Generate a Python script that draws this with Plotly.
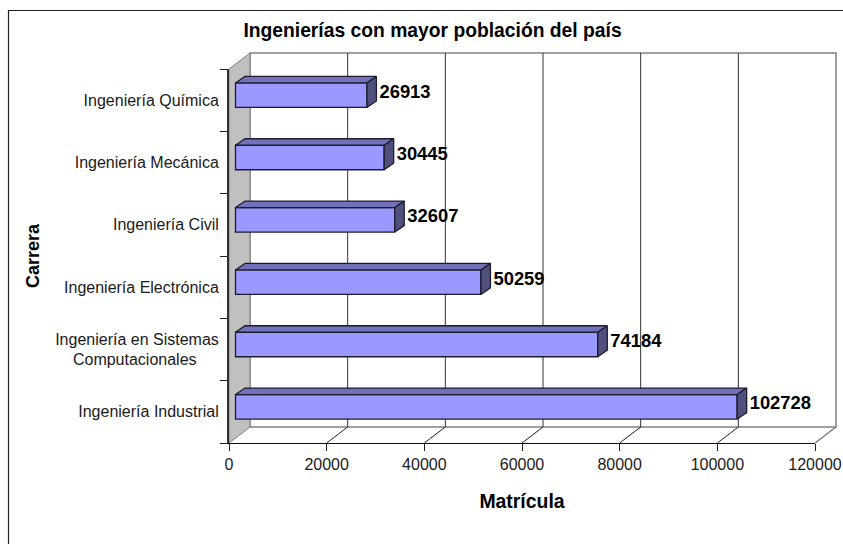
import plotly.graph_objects as go

categories = ["Ingeniería Industrial", "Ingeniería en Sistemas<br>Computacionales" + "&nbsp;" * 5,
              "Ingeniería Electrónica", "Ingeniería Civil", "Ingeniería Mecánica", "Ingeniería Química"]
matricula = [102728, 74184, 50259, 32607, 30445, 26913]
x_ticks = [0, 20000, 40000, 60000, 80000, 100000, 120000]
title_text = "Ingenierías con mayor población del país"

W, H = 843, 544
L, R, T, B = 229, 815, 69, 443      # front plane of the chart
R2, T2 = 840, 50                    # room for the back wall
n = len(categories)
ux = 120000 / (R - L)
uy = n / (B - T)

wall_dx, wall_dy = 21 * ux, 16 * uy
bar_off_x, bar_off_y = 6.5 * ux, 5.0 * uy
bar_dx, bar_dy = 9.5 * ux, 6.5 * uy
bar_h = 24.5 * uy
ymax = float(n)
xmax = float(x_ticks[-1])
centres = [i + 0.5 for i in range(n)]

GREY = "#808080"
DARK = "#1c1c2c"
tick_font = dict(family="Liberation Sans, Arial", size=16, color="#1a1a1a")
bold = lambda s: dict(family="Liberation Sans, Arial", size=s, color="#000000", weight="bold")

fig = go.Figure()

def poly(xs, ys, fill, line, width=1, xa="x", ya="y", fillit=True):
    fig.add_trace(go.Scatter(x=xs, y=ys, mode="lines", xaxis=xa, yaxis=ya,
                             fill="toself" if fillit else None, fillcolor=fill,
                             line=dict(color=line, width=width), hoverinfo="skip",
                             showlegend=False))

# back wall and floor (drawn on the full-size hidden axes, below everything else)
poly([wall_dx, xmax + wall_dx, xmax + wall_dx, wall_dx, wall_dx],
     [wall_dy, wall_dy, ymax + wall_dy, ymax + wall_dy, wall_dy], "#ffffff", GREY, 1.5)
for v in x_ticks[1:-1]:
    poly([v + wall_dx, v + wall_dx], [wall_dy, ymax + wall_dy], None, "#333333", 1, fillit=False)
    poly([v, v + wall_dx], [0, wall_dy], None, "#222222", 1, fillit=False)
poly([xmax, xmax + wall_dx], [0, wall_dy], None, GREY, 1.5, fillit=False)
poly([0, wall_dx, wall_dx, 0, 0], [0, wall_dy, ymax + wall_dy, ymax, 0], "#C0C0C0", GREY, 1)

# bars, front faces
fig.add_trace(go.Bar(orientation="h", x=matricula, base=bar_off_x,
                     y=[c + bar_off_y for c in centres], width=bar_h,
                     xaxis="x2", yaxis="y2",
                     marker=dict(color="#9999FF", line=dict(color=DARK, width=1.3)),
                     hoverinfo="skip", showlegend=False))

top_x, top_y, side_x, side_y = [], [], [], []
for v, c in zip(matricula, centres):
    x0, x1 = bar_off_x, v + bar_off_x
    y0, y1 = c + bar_off_y - bar_h / 2, c + bar_off_y + bar_h / 2
    top_x += [x0, x0 + bar_dx, x1 + bar_dx, x1, x0, None]
    top_y += [y1, y1 + bar_dy, y1 + bar_dy, y1, y1, None]
    side_x += [x1, x1 + bar_dx, x1 + bar_dx, x1, x1, None]
    side_y += [y0, y0 + bar_dy, y1 + bar_dy, y1, y0, None]
poly(top_x, top_y, "#7272BC", DARK, 1.3, "x2", "y2")
poly(side_x, side_y, "#50507F", DARK, 1.3, "x2", "y2")

# value labels
fig.add_trace(go.Scatter(x=[v + bar_off_x + bar_dx + 3 * ux for v in matricula],
                         y=[c + bar_off_y + 2.0 * uy for c in centres],
                         mode="text", text=[str(v) for v in matricula], textposition="middle right",
                         textfont=bold(18.4), xaxis="x2", yaxis="y2", hoverinfo="skip",
                         showlegend=False, cliponaxis=False))

full_w, full_h = R2 - L, B - T2
fig.update_layout(
    width=W, height=H, autosize=False,
    margin=dict(l=L, r=W - R2, t=T2, b=H - B, pad=0, autoexpand=False),
    paper_bgcolor="#ffffff", plot_bgcolor="rgba(0,0,0,0)",
    showlegend=False,
    title=dict(text=title_text, font=bold(19.3), x=432.5 / W, xanchor="center",
               y=1 - 30 / H, yanchor="middle"),
    xaxis=dict(range=[0, full_w * ux], domain=[0, 1], visible=False),
    yaxis=dict(range=[0, full_h * uy], domain=[0, 1], visible=False),
    xaxis2=dict(range=[0, xmax], domain=[0, (R - L) / full_w], anchor="y2",
                tickmode="array", tickvals=x_ticks, ticktext=[str(v) for v in x_ticks],
                ticks="outside", ticklen=7, tickwidth=1, tickcolor="#222222",
                showgrid=False, zeroline=False, showline=True, linecolor="#111111", linewidth=1,
                tickfont=tick_font, title=dict(text="Matrícula", font=bold(19.4), standoff=22)),
    yaxis2=dict(range=[0, ymax], domain=[0, (B - T) / full_h], anchor="x2",
                tickmode="array", tickvals=centres, ticktext=categories,
                ticks="", showgrid=False, zeroline=False, showline=True, linecolor="#333333", linewidth=2,
                tickfont=tick_font, ticklabelstandoff=5,
                minor=dict(tickmode="array", tickvals=list(range(n + 1)), ticks="outside",
                           ticklen=7, tickwidth=1, tickcolor="#222222", showgrid=False),
                title=dict(text="Carrera", font=bold(18), standoff=10.5)),
    shapes=[dict(type="rect", xref="paper", yref="paper",
                 x0=(8.5 - L) / full_w, x1=(860 - L) / full_w,
                 y0=(B - 560) / full_h, y1=(B - 10.5) / full_h,
                 line=dict(color="#222222", width=1.2), fillcolor="rgba(0,0,0,0)", layer="below")],
)

fig.write_html("out.html", post_script="document.body.style.margin='0';",
               config=dict(displayModeBar=False))
